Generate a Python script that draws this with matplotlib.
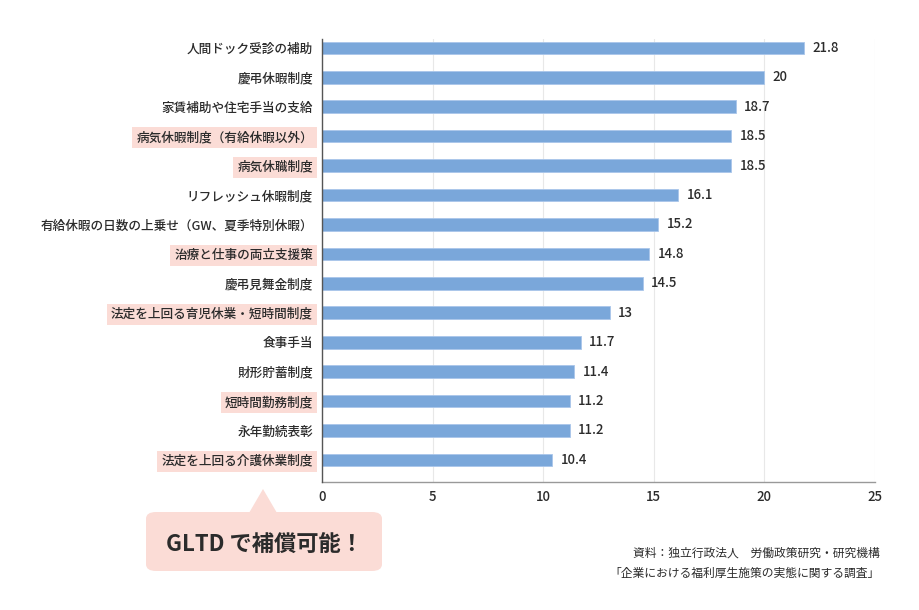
import matplotlib.pyplot as plt
from matplotlib.patches import FancyBboxPatch, Polygon

plt.rcParams['font.family'] = ['Noto Sans CJK JP', 'DejaVu Sans']

# data (top to bottom)
categories = [
    '人間ドック受診の補助',
    '慶弔休暇制度',
    '家賃補助や住宅手当の支給',
    '病気休暇制度（有給休暇以外）',
    '病気休職制度',
    'リフレッシュ休暇制度',
    '有給休暇の日数の上乗せ（GW、夏季特別休暇）',
    '治療と仕事の両立支援策',
    '慶弔見舞金制度',
    '法定を上回る育児休業・短時間制度',
    '食事手当',
    '財形貯蓄制度',
    '短時間勤務制度',
    '永年勤続表彰',
    '法定を上回る介護休業制度',
]
values = [21.8, 20, 18.7, 18.5, 18.5, 16.1, 15.2, 14.8, 14.5, 13, 11.7, 11.4, 11.2, 11.2, 10.4]
highlighted = [3, 4, 7, 9, 12, 14]
x_ticks = [0, 5, 10, 15, 20, 25]

BAR_COLOR = '#7aa7da'
PINK = '#fbdcd6'
TEXT = '#2b2b2b'

W, H = 920, 610
fig = plt.figure(figsize=(W / 100, H / 100), dpi=100)


def fx(px):
    return px / W


def fy(py):
    return 1 - py / H


ax = fig.add_axes([fx(322), fy(482), fx(875) - fx(322), fy(39) - fy(482)])

ypos = list(range(len(categories)))
ax.barh(ypos, values, height=0.43, color=BAR_COLOR, edgecolor='#a9c6ea', linewidth=0.6, zorder=3)

for y, v in zip(ypos, values):
    ax.annotate(f'{v:g}', xy=(v, y), xytext=(6, 0), textcoords='offset points',
                va='center', ha='left', fontsize=9.5, fontweight='medium', color=TEXT)

ax.set_xlim(0, 25)
ax.set_ylim(14.75, -0.3)
ax.set_xticks(x_ticks)
ax.set_yticks(ypos)
ax.set_yticklabels(categories, fontsize=9.1, fontweight='medium', color=TEXT)
ax.tick_params(axis='y', length=0, pad=6.5)
ax.tick_params(axis='x', length=0, pad=6, labelsize=9.5, labelcolor=TEXT)
for lab in ax.get_xticklabels():
    lab.set_fontweight('medium')
ax.grid(axis='x', color='#e8e8e8', linewidth=0.8, zorder=0)

for side in ['top', 'right']:
    ax.spines[side].set_visible(False)
ax.spines['left'].set_color('#555555')
ax.spines['left'].set_linewidth(1.0)
ax.spines['bottom'].set_color('#999999')
ax.spines['bottom'].set_linewidth(1.0)
ax.spines['left'].set_zorder(4)

for i, lab in enumerate(ax.get_yticklabels()):
    if i in highlighted:
        lab.set_bbox(dict(facecolor=PINK, edgecolor='none', boxstyle='square,pad=0.32'))

# callout bubble
bubble = FancyBboxPatch((fx(146), fy(571)), fx(382) - fx(146), fy(512) - fy(571),
                        boxstyle='round,pad=0,rounding_size=0.011',
                        transform=fig.transFigure, facecolor=PINK, edgecolor='none')
fig.patches.append(bubble)
tri = Polygon([(fx(249), fy(513)), (fx(263), fy(489)), (fx(277), fy(513))], closed=True,
              transform=fig.transFigure, facecolor=PINK, edgecolor='none')
fig.patches.append(tri)
fig.text(fx(265), fy(545), 'GLTD で補償可能！', ha='center', va='center',
         fontsize=16, fontweight='bold', color=TEXT)

# source note
fig.text(fx(880), fy(553), '資料：独立行政法人　労働政策研究・研究機構', ha='right', va='center',
         fontsize=8.5, color=TEXT)
fig.text(fx(880), fy(573), '「企業における福利厚生施策の実態に関する調査」', ha='right', va='center',
         fontsize=8.5, color=TEXT)

fig.savefig('out.png', dpi=100)
